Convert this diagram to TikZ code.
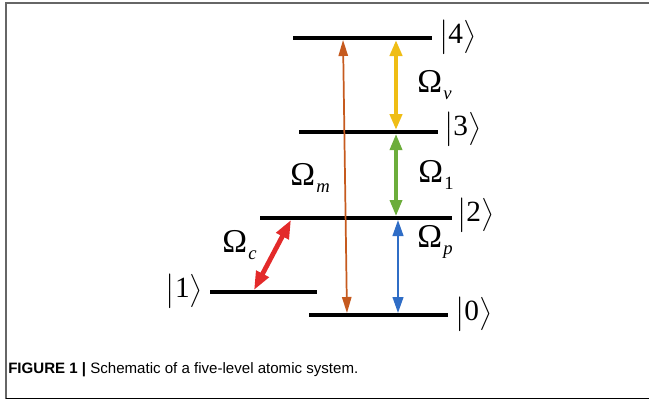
\documentclass[tikz,border=0pt]{standalone}
\usepackage{amsmath}
\usepackage{fontspec}
\setmainfont{Liberation Serif}
\newfontfamily\capfont{Liberation Sans}
\usepackage{tikz}
\usetikzlibrary{arrows.meta}
\definecolor{orgc}{HTML}{C65A1E}
\definecolor{ylwc}{HTML}{EFBD15}
\definecolor{grnc}{HTML}{6CAD3B}
\definecolor{bluc}{HTML}{2F6DC6}
\definecolor{redc}{HTML}{E32A2A}
\newcommand{\ket}[1]{$\bigl|\text{#1}\bigr\rangle$}
\newcommand{\rabi}[1]{{\fontsize{25}{27}\selectfont Ω}\kern1pt\raisebox{-5.5pt}{\fontsize{14}{15}\selectfont #1}}
\tikzset{
  lvl/.style={line width=3.2pt,black},
  ket/.style={font=\fontsize{22}{24}\selectfont,inner sep=0pt},
  lab/.style={anchor=base west,inner sep=0pt},
  trn/.style={shorten <=1.5pt,shorten >=1.5pt}
}
\begin{document}
\begin{tikzpicture}[x=0.75pt,y=-0.75pt]
\useasboundingbox (0,0) rectangle (649,400);
% frame
\draw[gray!80!black,line width=1.2pt] (6,399) -- (6,3) -- (649,3);
\draw[black,line width=1pt] (6,398.5) -- (649,398.5);
% levels
\coordinate (l4a) at (293,38);  \coordinate (l4b) at (432,38);
\coordinate (l3a) at (299,132); \coordinate (l3b) at (438,132);
\coordinate (l2a) at (260,218); \coordinate (l2b) at (452,218);
\coordinate (l1a) at (210,292); \coordinate (l1b) at (317,292);
\coordinate (l0a) at (309,315); \coordinate (l0b) at (448,315);
\foreach \k in {0,...,4}{\draw[lvl] (l\k a) -- (l\k b);}
\node[ket,anchor=west] (k4) at (439,37) {\ket{4}};
\node[ket,anchor=west] (k3) at (444,129) {\ket{3}};
\node[ket,anchor=west] (k2) at (457,215) {\ket{2}};
\node[ket,anchor=east] (k1) at (203,291) {\ket{1}};
\node[ket,anchor=west] (k0) at (455,314) {\ket{0}};
% transition points
\coordinate (m4) at (343,38);  \coordinate (m0) at (347,315);
\coordinate (v4) at (396,38);  \coordinate (v3) at (396,132);
\coordinate (g2) at (396,218); \coordinate (b2) at (398,218);
\coordinate (b0) at (398,315);
\coordinate (c2) at (292,218); \coordinate (c1) at (253,292);
% transitions
\draw[trn,orgc,line width=1.3pt,{Triangle[length=12pt,width=7pt]}-{Triangle[length=12pt,width=7pt]}] (m4) -- (m0);
\draw[trn,ylwc,line width=3.2pt,{Triangle[length=12pt,width=9pt]}-{Triangle[length=12pt,width=9pt]}] (v4) -- (v3);
\draw[trn,grnc,line width=2.6pt,{Triangle[length=12pt,width=9pt]}-{Triangle[length=12pt,width=9pt]}] (v3) -- (g2);
\draw[trn,bluc,line width=1.6pt,{Triangle[length=12pt,width=8pt]}-{Triangle[length=12pt,width=8pt]}] (b2) -- (b0);
\draw[trn,redc,line width=3.6pt,{Triangle[length=14pt,width=10pt]}-{Triangle[length=14pt,width=10pt]}] (c2) -- (c1);
% Rabi labels
\node[lab] (ov) at (417,92) {\rabi{\itshape v}};
\node[lab] (o1) at (418,182) {\rabi{1}};
\node[lab] (om) at (290,185) {\rabi{\itshape m}};
\node[lab] (op) at (417,247) {\rabi{\itshape p}};
\node[lab] (oc) at (222,252) {\rabi{\itshape c}};
% caption
\node[anchor=west,inner sep=0pt,font=\capfont\fontsize{11.3}{13}\selectfont] (cap) at (8,370)
  {\textbf{FIGURE 1 |} Schematic of a five-level atomic system.};
\end{tikzpicture}
\end{document}
